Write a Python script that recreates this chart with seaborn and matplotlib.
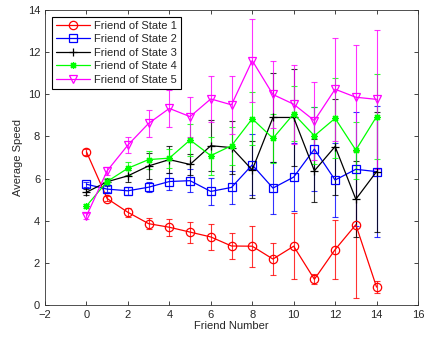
import numpy as np
import pandas as pd
import matplotlib
matplotlib.use("Agg")
import matplotlib.pyplot as plt
import seaborn as sns

friends = list(range(15))
labels = ["Friend of State 1", "Friend of State 2", "Friend of State 3",
          "Friend of State 4", "Friend of State 5"]

s1 = [7.27, 5.05, 4.4, 3.86, 3.69, 3.46, 3.23, 2.8, 2.79, 2.18, 2.79, 1.22, 2.63, 3.81, 0.85]
e1 = [0.15, 0.12, 0.22, 0.27, 0.4, 0.5, 0.6, 0.63, 0.97, 0.75, 1.57, 0.24, 1.4, 3.5, 0.28]

s2 = [5.73, 5.5, 5.42, 5.59, 5.86, 5.9, 5.39, 5.58, 6.65, 5.55, 6.07, 7.4, 5.93, 6.44, 6.33]
e2 = [0.12, 0.15, 0.18, 0.25, 0.4, 0.54, 0.65, 0.78, 1.45, 1.25, 1.6, 2.0, 1.77, 2.7, 3.1]

s3 = [5.35, 5.85, 6.13, 6.6, 6.9, 6.67, 7.56, 7.47, 6.41, 8.9, 8.9, 6.37, 7.52, 5.02, 6.33]
e3 = [0.15, 0.15, 0.3, 0.62, 0.63, 0.5, 1.22, 1.26, 1.35, 2.1, 2.28, 1.5, 2.28, 1.8, 2.85]

s4 = [4.7, 5.86, 6.49, 6.9, 6.97, 7.83, 7.09, 7.56, 8.84, 7.91, 9.07, 8.03, 8.86, 7.35, 8.94]
e4 = [0.1, 0.15, 0.32, 0.43, 0.45, 0.77, 0.9, 0.9, 1.25, 1.15, 1.3, 1.35, 1.9, 1.35, 2.03]

s5 = [4.22, 6.37, 7.59, 8.62, 9.33, 8.94, 9.78, 9.5, 11.6, 9.99, 9.53, 8.75, 10.24, 9.86, 9.76]
e5 = [0.15, 0.2, 0.4, 0.63, 0.88, 0.95, 1.1, 1.38, 1.96, 1.6, 1.88, 1.85, 2.45, 2.5, 3.3]

series = [s1, s2, s3, s4, s5]
errors = [e1, e2, e3, e4, e5]
colors = ["#FF0000", "#0000FF", "#000000", "#00FF00", "#FF00FF"]
markers = ["o", "s", "+", (8, 2, 0), "v"]
msizes = [6, 5.5, 6, 5, 6]

rows = []
for lab, vals, errs in zip(labels, series, errors):
    for f, v, e in zip(friends, vals, errs):
        rows.append({"Friend Number": f, "Average Speed": v, "err": e, "state": lab})
df = pd.DataFrame(rows)

sns.set_style("ticks")
plt.rcParams["font.family"] = ["Liberation Sans", "DejaVu Sans"]
plt.rcParams["xtick.direction"] = "in"
plt.rcParams["ytick.direction"] = "in"

fig = plt.figure(figsize=(4.24, 3.39), dpi=100)
ax = fig.add_axes([45 / 424, 34 / 339, 373 / 424, 295 / 339])

for lab, col in zip(labels, colors):
    sub = df[df["state"] == lab]
    ax.errorbar(sub["Friend Number"], sub["Average Speed"], yerr=sub["err"],
                fmt="none", ecolor=col, elinewidth=0.8, capsize=2.5, capthick=0.8,
                alpha=0.8, zorder=2)

for lab, col, mk, ms in zip(labels, colors, markers, msizes):
    sub = df[df["state"] == lab]
    sns.lineplot(data=sub, x="Friend Number", y="Average Speed", color=col,
                 marker=mk, markersize=ms,
                 markerfacecolor="none", markeredgecolor=col, markeredgewidth=0.9,
                 linewidth=0.9, label=lab, ax=ax, zorder=3)

ax.set_xlim(-2, 16)
ax.set_ylim(0, 14)
ax.set_xticks(range(-2, 17, 2))
ax.set_yticks(range(0, 15, 2))
ax.tick_params(labelsize=8, length=3, top=True, right=True, width=0.6)
for sp in ax.spines.values():
    sp.set_visible(True)
    sp.set_linewidth(0.6)
    sp.set_color("#333333")
ax.set_xlabel("Friend Number", fontsize=8, labelpad=1)
ax.set_ylabel("Average Speed", fontsize=8, labelpad=3)

handles, labs = ax.get_legend_handles_labels()
leg = ax.legend(handles, labs, loc="upper left", fontsize=8, frameon=True,
                fancybox=False, edgecolor="black", framealpha=1,
                borderpad=0.35, labelspacing=0.32, handlelength=3.1,
                handletextpad=0.4, borderaxespad=0.6)
leg.get_frame().set_linewidth(0.8)

fig.savefig("out.png", dpi=100)
